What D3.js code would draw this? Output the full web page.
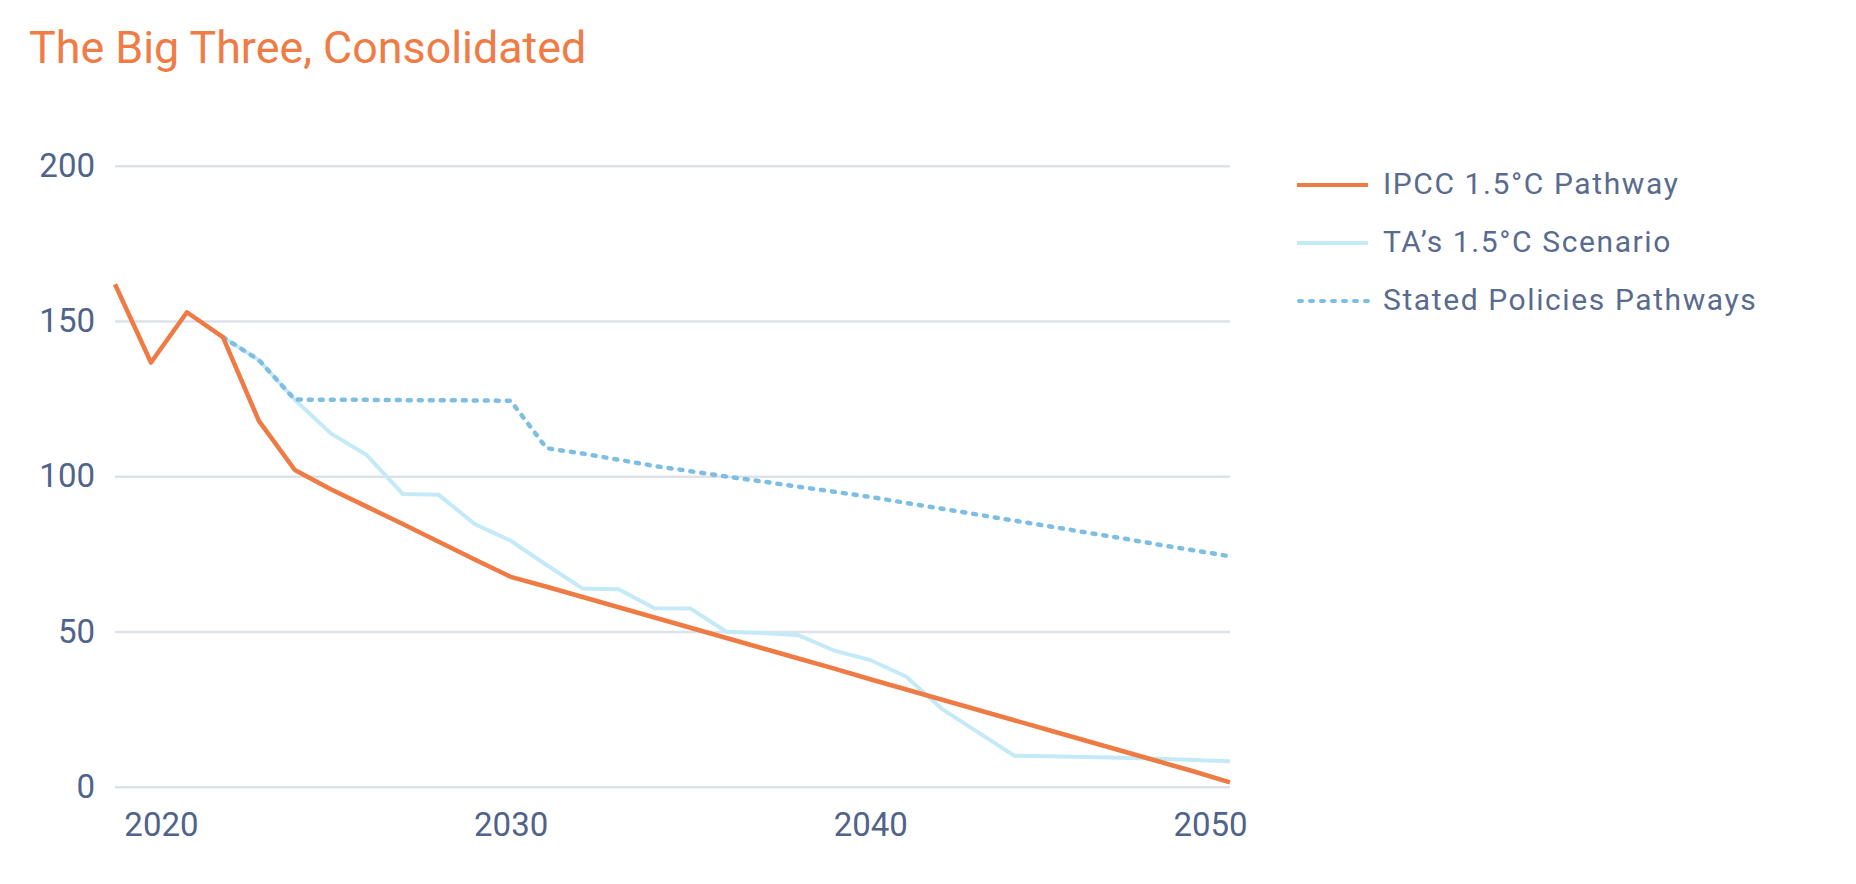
<!DOCTYPE html>
<html>
<head>
<meta charset="utf-8">
<script src="https://cdn.jsdelivr.net/npm/d3@7"></script>
<style>
  html, body { margin: 0; padding: 0; background: #fff; }
  svg { display: block; }
  svg text { font-family: Roboto, "Noto Sans", sans-serif; }
</style>
</head>
<body>
<svg id="chart" width="1856" height="884"></svg>
<script>

var years = [2019, 2020, 2021, 2022, 2023, 2024, 2025, 2026, 2027, 2028,
             2029, 2030, 2031, 2032, 2033, 2034, 2035, 2036, 2037, 2038,
             2039, 2040, 2041, 2042, 2043, 2044, 2045, 2046, 2047, 2048,
             2049, 2050];

var ipcc = [161.8, 136.6, 152.8, 144.8, 117.8, 102.0, 95.8, 90.2, 84.6, 78.9,
            73.2, 67.6, 64.4, 61.1, 57.8, 54.5, 51.2, 47.9, 44.6, 41.3,
            38.0, 34.6, 31.3, 28.0, 24.7, 21.4, 18.1, 14.8, 11.5, 8.2,
            4.9, 1.4];

var taScenario = [null, null, null, 144.8, 137.4, 124.6, 113.8, 106.8, 94.3, 94.0,
                  84.6, 79.2, 71.4, 63.8, 63.6, 57.5, 57.4, 49.9, 49.5, 48.8,
                  43.8, 40.8, 35.4, 25.0, 17.5, 10.0, 9.8, 9.6, 9.3, 9.0,
                  8.6, 8.2];

var statedPolicies = [null, null, null, 144.8, 137.4, 124.7, 124.6, 124.6, 124.5, 124.5,
                      124.4, 124.3, 109.0, 107.3, 105.3, 103.3, 101.6, 99.9, 98.3, 96.6,
                      95.0, 93.3, 91.4, 89.5, 87.6, 85.7, 83.8, 81.9, 80.0, 78.0,
                      76.1, 74.2];

var yTicks = [0, 50, 100, 150, 200];
var xTicks = [2020, 2030, 2040, 2050];

var seriesNames = ['IPCC 1.5°C Pathway', 'TA\u2019s 1.5°C Scenario', 'Stated Policies Pathways'];


var svg = d3.select('#chart');

var plotLeft = 115,
    plotRight = 1230,
    plotTop = 165.7,
    plotBottom = 786.7;

var x = d3.scaleLinear().domain([2019, 2050]).range([plotLeft, plotRight]);
var y = d3.scaleLinear().domain([0, 200]).range([plotBottom, plotTop]);

var axisColor = '#50638a',
    gridColor = '#dde2ea',
    dotted = '3,8',
    fontFamily = 'Roboto, "Noto Sans", sans-serif';

// Title
svg.append('text')
    .attr('x', 29)
    .attr('y', 63)
    .attr('fill', '#ef7b45')
    .style('font-size', '44.8px')
    .text('The Big Three, Consolidated');

// Y axis with gridlines
var yAxis = svg.append('g')
    .attr('transform', 'translate(' + plotLeft + ',0)')
    .call(d3.axisLeft(y)
        .tickValues(yTicks)
        .tickSize(-(plotRight - plotLeft))
        .tickPadding(20))
    .attr('font-family', fontFamily);

yAxis.select('.domain').remove();
yAxis.selectAll('.tick line')
    .attr('stroke', gridColor)
    .attr('stroke-width', 2.5);
yAxis.selectAll('.tick text')
    .attr('fill', axisColor)
    .style('font-size', '33px');

// X axis labels
var labelShift = { 2020: 10, 2050: -20 };

var xAxis = svg.append('g')
    .attr('transform', 'translate(0,' + plotBottom + ')')
    .call(d3.axisBottom(x)
        .tickValues(xTicks)
        .tickFormat(d3.format('d'))
        .tickSize(0)
        .tickPadding(26))
    .attr('font-family', fontFamily);

xAxis.select('.domain').remove();
xAxis.selectAll('.tick text')
    .attr('fill', axisColor)
    .attr('dx', function (d) { return labelShift[d] || 0; })
    .style('font-size', '33px');

// Lines
function makeLine (values) {
    return d3.line()
        .defined(function (d, i) { return values[i] !== null; })
        .x(function (d, i) { return x(years[i]); })
        .y(function (d, i) { return y(values[i]); })(values);
}

svg.append('path')
    .attr('d', makeLine(taScenario))
    .attr('fill', 'none')
    .attr('stroke', '#c4eaf7')
    .attr('stroke-width', 4);

svg.append('path')
    .attr('d', makeLine(statedPolicies))
    .attr('fill', 'none')
    .attr('stroke', '#7dbee2')
    .attr('stroke-width', 4.5)
    .attr('stroke-linecap', 'round')
    .attr('stroke-dasharray', dotted);

svg.append('path')
    .attr('d', makeLine(ipcc))
    .attr('fill', 'none')
    .attr('stroke', '#ee7a44')
    .attr('stroke-width', 4.5)
    .attr('stroke-linejoin', 'round');

// Legend
var legendStyles = [
    { stroke: '#ee7a44', dash: null, cap: 'butt' },
    { stroke: '#c4eaf7', dash: null, cap: 'butt' },
    { stroke: '#7dbee2', dash: dotted, cap: 'round' }
];

var legend = svg.append('g')
    .attr('transform', 'translate(1297,185)');

var item = legend.selectAll('g')
    .data(seriesNames)
    .enter()
    .append('g')
    .attr('transform', function (d, i) { return 'translate(0,' + (i * 58) + ')'; });

item.append('line')
    .attr('x1', function (d, i) { return legendStyles[i].dash ? 2 : 0; })
    .attr('x2', 71)
    .attr('stroke', function (d, i) { return legendStyles[i].stroke; })
    .attr('stroke-width', 4)
    .attr('stroke-linecap', function (d, i) { return legendStyles[i].cap; })
    .attr('stroke-dasharray', function (d, i) { return legendStyles[i].dash; });

item.append('text')
    .attr('x', 86)
    .attr('y', 9)
    .attr('fill', '#596b8e')
    .style('font-size', '30px')
    .style('letter-spacing', '1.6px')
    .text(function (d) { return d; });

</script>
</body>
</html>
